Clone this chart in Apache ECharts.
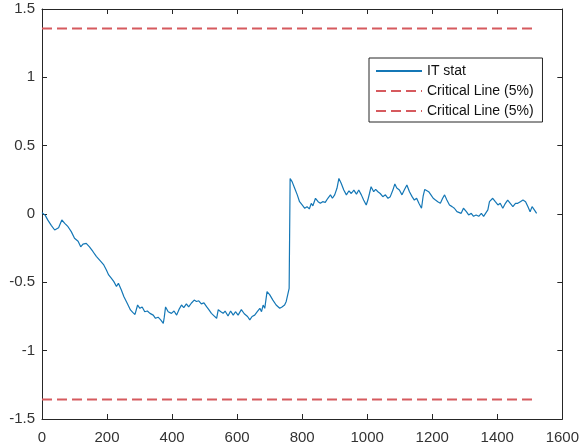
<!DOCTYPE html>
<html>
<head>
<meta charset="utf-8">
<script src="https://cdn.jsdelivr.net/npm/echarts@6/dist/echarts.min.js"></script>
<style>html,body{margin:0;padding:0;background:#fff}#c{width:582px;height:445px}</style>
</head>
<body>
<div id="c"></div>
<script>
var xTicks = [0, 200, 400, 600, 800, 1000, 1200, 1400, 1600];
var yTicks = [-1.5, -1, -0.5, 0, 0.5, 1, 1.5];
var statX = [0,10,18,29,39,45,51,55,61,70,80,90,100,111,119,126,136,146,157,167,173,182,190,198,205,213,221,229,235,244,252,262,272,279,286,
294,301,308,316,324,332,342,349,357,365,373,376,380,388,398,406,414,421,429,436,444,451,459,468,475,482,490,498,506,513,521,529,537,542,550,557,563,572,580,588,595,603,
613,622,632,639,646,654,662,670,675,680,685,692,700,710,720,731,738,746,751,757,760,763,769,777,785,
792,800,808,815,822,828,833,841,849,856,863,871,879,887,893,900,907,913,920,928,936,944,951,959,967,974,982,989,997,1002,1007,1012,1020,1026,1033,1040,1048,1056,1064,1071,1079,1085,1091,1099,1107,1114,1122,1130,1138,1145,1152,1159,1167,
1172,1177,1182,1189,1196,1203,1210,1217,1225,1232,1238,1245,1253,1261,1268,1276,1282,1289,1296,1305,1312,1320,1327,1335,1343,1351,1358,1364,1371,1376,1381,1386,1394,1402,1409,1417,1425,1432,1440,1448,1456,1463,1471,1479,1487,1494,1501,1507,1514,1521];
var statY = [0.01,-0.01,-0.045,-0.085,-0.117,-0.124,-0.1,-0.11,-0.044,-0.068,-0.093,-0.129,-0.178,-0.2,-0.24,-0.22,-0.215,-0.24,-0.276,-0.31,-0.30,-0.35,-0.373,-0.41,-0.446,-0.47,-0.495,-0.53,-0.507,-0.556,-0.605,-0.653,-0.702,-0.72,-0.735,
-0.666,-0.69,-0.68,-0.715,-0.71,-0.727,-0.74,-0.763,-0.755,-0.775,-0.80,-0.755,-0.68,-0.715,-0.727,-0.71,-0.74,-0.70,-0.666,-0.685,-0.658,-0.68,-0.653,-0.63,-0.64,-0.635,-0.658,-0.65,-0.678,-0.70,-0.727,-0.745,-0.763,-0.70,-0.715,-0.727,-0.71,-0.746,-0.71,-0.74,-0.715,-0.74,
-0.70,-0.73,-0.75,-0.775,-0.75,-0.74,-0.715,-0.69,-0.715,-0.666,-0.69,-0.568,-0.59,-0.63,-0.666,-0.69,-0.68,-0.666,-0.64,-0.63,-0.545,0.26,0.237,0.188,0.14,
0.09,0.066,0.042,0.054,0.037,0.078,0.06,0.115,0.09,0.078,0.09,0.085,0.115,0.14,0.115,0.14,0.188,0.26,0.225,0.175,0.14,0.17,0.15,0.175,0.145,0.175,0.14,0.102,0.066,0.102,0.15,0.2,0.163,0.18,0.163,0.15,0.127,0.14,0.115,0.127,0.175,0.22,0.19,0.175,0.14,0.175,0.212,0.163,0.127,0.102,0.115,0.078,0.042,
0.13,0.18,0.19,0.163,0.14,0.115,0.102,0.09,0.078,0.115,0.14,0.102,0.066,0.054,0.042,0.017,0.03,0.005,0.042,0.017,-0.007,0.005,-0.017,-0.007,-0.017,0.005,-0.017,-0.007,0.03,0.09,0.078,0.115,0.09,0.066,0.078,0.042,0.078,0.102,0.078,0.054,0.078,0.078,0.09,0.102,0.09,0.054,0.017,0.054,0.03,0.005];
var criticalX = [0, 1522];
var criticalUpper = [1.358, 1.358];
var criticalLower = [-1.358, -1.358];

function pairs(xs, ys){ return xs.map(function(x,i){ return [x, ys[i]]; }); }

var FONT = '"Liberation Sans", Arial, sans-serif';
var AX = '#262626';
var LBL = '#333333';
var chart = echarts.init(document.getElementById('c'), null, {renderer:'canvas'});
var xBase = {type:'value', min:xTicks[0], max:xTicks[xTicks.length-1], interval:200,
  axisLine:{show:true, onZero:false, lineStyle:{color:AX, width:1}},
  axisTick:{show:true, inside:true, length:5, lineStyle:{color:AX}},
  splitLine:{show:false}};
var yBase = {type:'value', min:yTicks[0], max:yTicks[yTicks.length-1], interval:0.5,
  axisLine:{show:true, onZero:false, lineStyle:{color:AX, width:1}},
  axisTick:{show:true, inside:true, length:5, lineStyle:{color:AX}},
  splitLine:{show:false}};
var dashColor = '#D65A5E';
var lineColor = '#1477B6';
chart.setOption({
  animation:false,
  backgroundColor:'#fff',
  grid:{left:42, right:19, top:9, bottom:26, containLabel:false},
  xAxis:[
    Object.assign({}, xBase, {position:'bottom', axisLabel:{show:true, margin:11, color:LBL, fontSize:15, fontFamily:FONT,
      formatter:function(v){ return String(v); }}}),
    Object.assign({}, xBase, {position:'top', axisLabel:{show:false}})
  ],
  yAxis:[
    Object.assign({}, yBase, {position:'left', axisLabel:{show:true, margin:7, color:LBL, fontSize:15, fontFamily:FONT,
      formatter:function(v){ return String(v); }}}),
    Object.assign({}, yBase, {position:'right', axisLabel:{show:false}})
  ],
  legend:{
    orient:'vertical', left:369, top:58, padding:[6,5,4,6],
    itemWidth:46, itemHeight:14, itemGap:6,
    backgroundColor:'#fff', borderColor:'#262626', borderWidth:1, borderRadius:0,
    itemStyle:{opacity:0},
    textStyle:{fontSize:14, fontFamily:FONT, color:'#111', padding:[0,0,0,0]},
    data:[{name:'IT stat'},{name:'Critical Line (5%)'},{name:'Critical Line (5%) '}]
  },
  series:[
    {name:'IT stat', type:'line', data:pairs(statX, statY), symbol:'none', showSymbol:false,
      lineStyle:{color:lineColor, width:1.2}, itemStyle:{color:lineColor}, z:3},
    {name:'Critical Line (5%)', type:'line', data:pairs(criticalX, criticalUpper), symbol:'none',
      lineStyle:{color:dashColor, width:2, type:[10,5]}, itemStyle:{color:dashColor}, z:2},
    {name:'Critical Line (5%) ', type:'line', data:pairs(criticalX, criticalLower), symbol:'none',
      lineStyle:{color:dashColor, width:2, type:[10,5]}, itemStyle:{color:dashColor}, z:2}
  ]
});
</script>
</body>
</html>
